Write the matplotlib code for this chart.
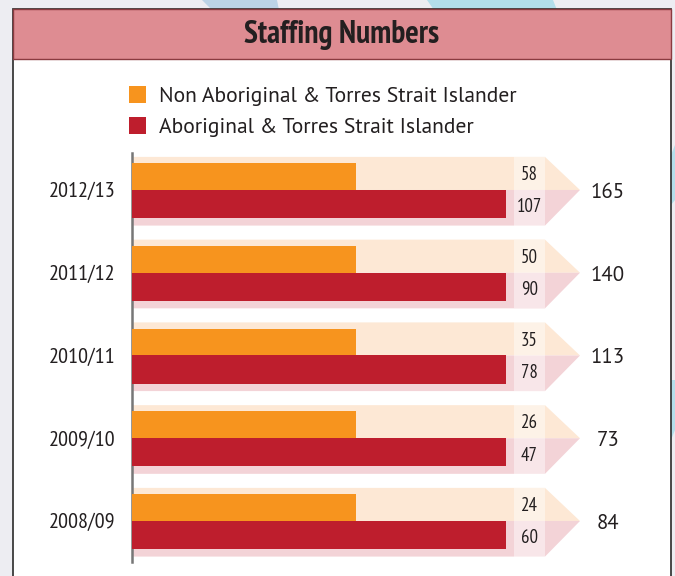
import matplotlib
matplotlib.use('Agg')
import matplotlib.pyplot as plt
from matplotlib.patches import Polygon, Rectangle
import numpy as np

# data
years = ['2012/13', '2011/12', '2010/11', '2009/10', '2008/09']
non_atsi = [58, 50, 35, 26, 24]
atsi = [107, 90, 78, 47, 60]
totals = [165, 140, 113, 73, 84]
series_names = ['Non Aboriginal & Torres Strait Islander',
                'Aboriginal & Torres Strait Islander']

ORANGE = '#f7941e'
RED = '#be1e2d'
PEACH = '#fde8d5'
PINK = '#f3d3d7'
TEXT = '#231f20'
NARROW = ['PT Sans Narrow', 'Barlow Condensed', 'DejaVu Sans']
PLAIN = ['PT Sans', 'Roboto', 'DejaVu Sans']

W, H = 675, 576
fig = plt.figure(figsize=(W / 100, H / 100), dpi=100, facecolor='#ededf2')

# background / frame drawn in pixel coords
bg = fig.add_axes([0, 0, 1, 1], zorder=0)
bg.set_xlim(0, W)
bg.set_ylim(H, 0)
bg.axis('off')
bg.add_patch(Polygon([(202, 0), (277, 0), (279, 10), (212, 10)], color='#bcd3e6', lw=0))
bg.add_patch(Polygon([(427, 0), (553, 0), (557, 10), (434, 10)], color='#b3deeb', lw=0))
bg.add_patch(Polygon([(671, 155), (675, 145), (675, 200), (671, 205)], color='#b3deeb', lw=0))
bg.add_patch(Polygon([(671, 380), (675, 380), (675, 430), (671, 440)], color='#b3deeb', lw=0))
bg.add_patch(Rectangle((13, 9), 658, 580, facecolor='white', edgecolor='#3a3a3a', lw=1.3))
bg.add_patch(Rectangle((13, 9), 658, 50, facecolor='#de8c92', edgecolor='#8a3a40', lw=1.0))
bg.text(342, 35, 'Staffing Numbers', ha='center', va='center', fontsize=22.8,
        fontweight='bold', family=NARROW, color=TEXT)

# bar panel: x in pixels from the axis line, y = group index
ax = fig.add_axes([132 / W, (H - 562) / H, (660 - 132) / W, (562 - 153) / H], zorder=1)
ax.set_xlim(0, 528)
ax.set_ylim(-0.4955, 4.447)
ax.patch.set_alpha(0)
y = np.arange(len(years))[::-1]

ORANGE_LEN, RED_LEN = 224, 374
BOX_L, BOX_R, TIP = 382, 413, 448
UP, DN = 0.40, 0.43

for yc in y:
    ax.add_patch(Polygon([(0, yc), (0, yc + UP), (BOX_R, yc + UP), (TIP, yc)],
                         facecolor=PEACH, lw=0, zorder=1))
    ax.add_patch(Polygon([(0, yc), (0, yc - DN), (BOX_R, yc - DN), (TIP, yc)],
                         facecolor=PINK, lw=0, zorder=1))
    ax.add_patch(Rectangle((BOX_L, yc), BOX_R - BOX_L, UP, facecolor='white',
                           alpha=0.45, lw=0, zorder=2))
    ax.add_patch(Rectangle((BOX_L, yc - DN), BOX_R - BOX_L, DN, facecolor='white',
                           alpha=0.45, lw=0, zorder=2))

ax.barh(y + 0.163, [ORANGE_LEN] * len(y), height=0.326, color=ORANGE,
        label=series_names[0], zorder=3)
ax.barh(y - 0.17, [RED_LEN] * len(y), height=0.34, color=RED,
        label=series_names[1], zorder=3)

for yc, a, b, t in zip(y, non_atsi, atsi, totals):
    ax.text((BOX_L + BOX_R) / 2, yc + 0.18, str(a), ha='center', va='center',
            fontsize=13.5, family=NARROW, color=TEXT, zorder=4)
    ax.text((BOX_L + BOX_R) / 2, yc - 0.21, str(b), ha='center', va='center',
            fontsize=13.5, family=NARROW, color=TEXT, zorder=4)
    ax.text(476, yc - 0.03, str(t), ha='center', va='center', fontsize=15,
            family=PLAIN, color=TEXT, zorder=4)

ax.set_yticks(y, labels=years)
ax.tick_params(axis='y', length=0, pad=12, labelsize=16, labelcolor=TEXT)
for lab in ax.get_yticklabels():
    lab.set_family(NARROW)
ax.set_xticks([])
for s in ['top', 'right', 'bottom']:
    ax.spines[s].set_visible(False)
ax.spines['left'].set_color('#777777')
ax.spines['left'].set_linewidth(1.8)

fig.legend(loc='upper left', bbox_to_anchor=(112 / W, 1 - 69 / H), frameon=False,
           prop={'family': PLAIN, 'size': 15.6}, handlelength=0.78,
           handleheight=0.78, handletextpad=0.6, labelspacing=0.52,
           borderpad=0.3, labelcolor=TEXT)

fig.savefig('out.png', dpi=100, facecolor=fig.get_facecolor())
